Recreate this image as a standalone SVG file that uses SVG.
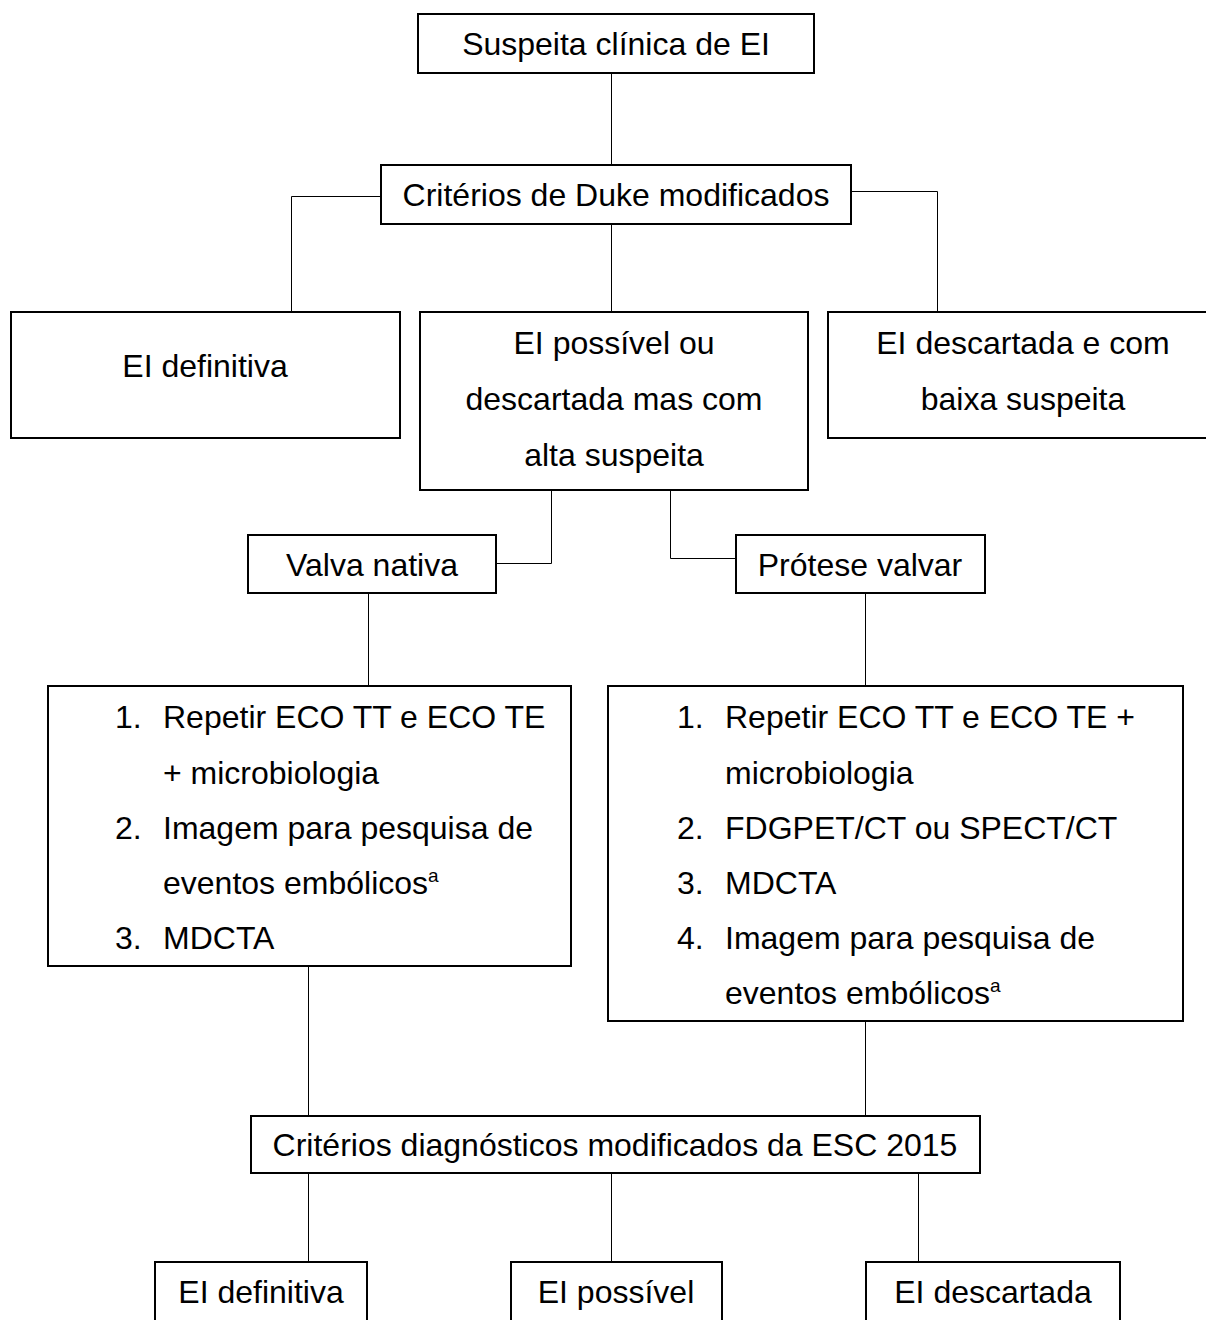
<svg xmlns="http://www.w3.org/2000/svg" width="1206" height="1320" viewBox="0 0 1206 1320">
<style>
.box{fill:#fff;stroke:#000;stroke-width:2}
.t{font-family:"Liberation Sans",Arial,sans-serif;font-size:32px;fill:#000}
.c{text-anchor:middle}
.sup{font-size:19px}
.conn{fill:none;stroke:#000;stroke-width:1}
</style>
<rect width="1206" height="1320" fill="#fff"/>
<g id="connectors">
<path class="conn" d="M611.5,73 V165"/>
<path class="conn" d="M381,196.5 H291.5 V312"/>
<path class="conn" d="M851,191.5 H937.5 V312"/>
<path class="conn" d="M611.5,224 V312"/>
<path class="conn" d="M551.5,490 V563.5 H496"/>
<path class="conn" d="M670.5,490 V558.5 H736"/>
<path class="conn" d="M368.5,593 V686"/>
<path class="conn" d="M865.5,593 V686"/>
<path class="conn" d="M308.5,966 V1116"/>
<path class="conn" d="M865.5,1021 V1116"/>
<path class="conn" d="M308.5,1173 V1262"/>
<path class="conn" d="M611.5,1173 V1262"/>
<path class="conn" d="M918.5,1173 V1262"/>
</g>
<g id="n1"><rect class="box" x="418" y="14" width="396" height="59"/><text class="t c" x="616" y="55">Suspeita clínica de EI</text></g>
<g id="n2"><rect class="box" x="381" y="165" width="470" height="59"/><text class="t c" x="616" y="206">Critérios de Duke modificados</text></g>
<g id="n3"><rect class="box" x="11" y="312" width="389" height="126"/><text class="t c" x="205" y="377">EI definitiva</text></g>
<g id="n4"><rect class="box" x="420" y="312" width="388" height="178"/><text class="t c" x="614" y="354">EI possível ou</text><text class="t c" x="614" y="410">descartada mas com</text><text class="t c" x="614" y="466">alta suspeita</text></g>
<g id="n5"><rect class="box" x="828" y="312" width="390" height="126"/><text class="t c" x="1023" y="354">EI descartada e com</text><text class="t c" x="1023" y="410">baixa suspeita</text></g>
<g id="n6"><rect class="box" x="248" y="535" width="248" height="58"/><text class="t c" x="372" y="576">Valva nativa</text></g>
<g id="n7"><rect class="box" x="736" y="535" width="249" height="58"/><text class="t c" x="860" y="576">Prótese valvar</text></g>
<g id="n8"><rect class="box" x="48" y="686" width="523" height="280"/>
<text class="t" x="115" y="728">1.</text><text class="t" x="163" y="728">Repetir ECO TT e ECO TE</text>
<text class="t" x="163" y="784">+ microbiologia</text>
<text class="t" x="115" y="839">2.</text><text class="t" x="163" y="839">Imagem para pesquisa de</text>
<text class="t" x="163" y="894">eventos embólicos<tspan class="sup" dy="-12">a</tspan></text>
<text class="t" x="115" y="949">3.</text><text class="t" x="163" y="949">MDCTA</text>
</g>
<g id="n9"><rect class="box" x="608" y="686" width="575" height="335"/>
<text class="t" x="677" y="728">1.</text><text class="t" x="725" y="728">Repetir ECO TT e ECO TE +</text>
<text class="t" x="725" y="784">microbiologia</text>
<text class="t" x="677" y="839">2.</text><text class="t" x="725" y="839">FDGPET/CT ou SPECT/CT</text>
<text class="t" x="677" y="894">3.</text><text class="t" x="725" y="894">MDCTA</text>
<text class="t" x="677" y="949">4.</text><text class="t" x="725" y="949">Imagem para pesquisa de</text>
<text class="t" x="725" y="1004">eventos embólicos<tspan class="sup" dy="-12">a</tspan></text>
</g>
<g id="n10"><rect class="box" x="251" y="1116" width="729" height="57"/><text class="t c" x="615" y="1156">Critérios diagnósticos modificados da ESC 2015</text></g>
<g id="n11"><rect class="box" x="155" y="1262" width="212" height="80"/><text class="t c" x="261" y="1303">EI definitiva</text></g>
<g id="n12"><rect class="box" x="511" y="1262" width="211" height="80"/><text class="t c" x="616" y="1303">EI possível</text></g>
<g id="n13"><rect class="box" x="866" y="1262" width="254" height="80"/><text class="t c" x="993" y="1303">EI descartada</text></g>
</svg>
